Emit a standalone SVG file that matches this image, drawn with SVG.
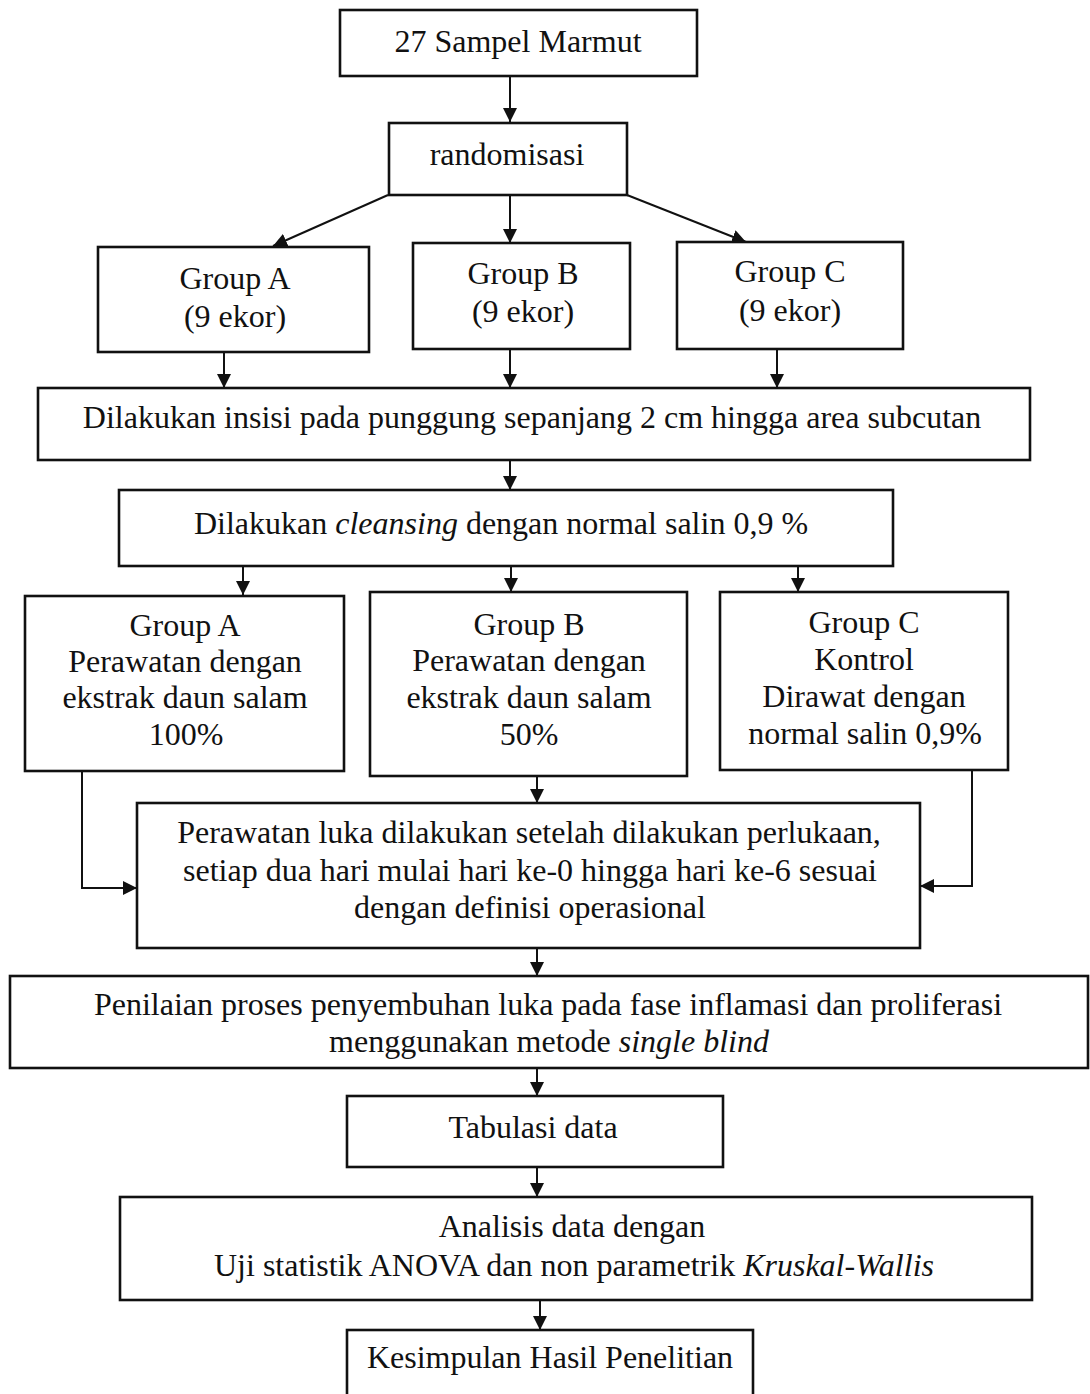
<svg xmlns="http://www.w3.org/2000/svg" width="1090" height="1394" viewBox="0 0 1090 1394">
<style>
.box{fill:#fff;stroke:#111;stroke-width:2.6}
.t{font-family:"Liberation Serif","Times New Roman",serif;font-size:32px;fill:#111;text-anchor:middle}
.c{fill:none;stroke:#111;stroke-width:2}
</style>
<defs>
<marker id="ah" viewBox="0 0 14 14" refX="14" refY="7" markerWidth="14" markerHeight="14" markerUnits="userSpaceOnUse" orient="auto">
<path d="M0,0 L14,7 L0,14 Z" fill="#111"/>
</marker>
</defs>
<rect width="1090" height="1394" fill="#fff"/>
<g id="connectors">
<line class="c" x1="510" y1="76" x2="510" y2="122" marker-end="url(#ah)"/>
<line class="c" x1="388" y1="195" x2="273" y2="246" marker-end="url(#ah)"/>
<line class="c" x1="510" y1="195" x2="510" y2="243" marker-end="url(#ah)"/>
<line class="c" x1="627" y1="195" x2="746" y2="242" marker-end="url(#ah)"/>
<line class="c" x1="224" y1="352" x2="224" y2="388" marker-end="url(#ah)"/>
<line class="c" x1="510" y1="349" x2="510" y2="388" marker-end="url(#ah)"/>
<line class="c" x1="777" y1="349" x2="777" y2="388" marker-end="url(#ah)"/>
<line class="c" x1="510" y1="460" x2="510" y2="490" marker-end="url(#ah)"/>
<line class="c" x1="243" y1="566" x2="243" y2="595" marker-end="url(#ah)"/>
<line class="c" x1="511" y1="566" x2="511" y2="592" marker-end="url(#ah)"/>
<line class="c" x1="798" y1="566" x2="798" y2="592" marker-end="url(#ah)"/>
<line class="c" x1="537" y1="776" x2="537" y2="803" marker-end="url(#ah)"/>
<polyline class="c" points="82,771 82,888 137,888" marker-end="url(#ah)"/>
<polyline class="c" points="972,770 972,886 920,886" marker-end="url(#ah)"/>
<line class="c" x1="537" y1="948" x2="537" y2="976" marker-end="url(#ah)"/>
<line class="c" x1="537" y1="1068" x2="537" y2="1096" marker-end="url(#ah)"/>
<line class="c" x1="537" y1="1167" x2="537" y2="1197" marker-end="url(#ah)"/>
<line class="c" x1="540" y1="1300" x2="540" y2="1330" marker-end="url(#ah)"/>
</g>
<g id="n1"><rect class="box" x="340" y="10" width="357" height="66"/><text class="t" x="518" y="52">27 Sampel Marmut</text></g>
<g id="n2"><rect class="box" x="389" y="123" width="238" height="72"/><text class="t" x="507" y="165">randomisasi</text></g>
<g id="n3"><rect class="box" x="98" y="247" width="271" height="105"/><text class="t" x="235" y="289">Group A</text><text class="t" x="235" y="327">(9 ekor)</text></g>
<g id="n4"><rect class="box" x="413" y="243" width="217" height="106"/><text class="t" x="523" y="284">Group B</text><text class="t" x="523" y="322">(9 ekor)</text></g>
<g id="n5"><rect class="box" x="677" y="242" width="226" height="107"/><text class="t" x="790" y="282">Group C</text><text class="t" x="790" y="321">(9 ekor)</text></g>
<g id="n6"><rect class="box" x="38" y="388" width="992" height="72"/><text class="t" x="532" y="428">Dilakukan insisi pada punggung sepanjang 2 cm hingga area subcutan</text></g>
<g id="n7"><rect class="box" x="119" y="490" width="774" height="76"/><text class="t" x="501" y="534">Dilakukan <tspan font-style="italic">cleansing</tspan> dengan normal salin 0,9 %</text></g>
<g id="n8"><rect class="box" x="25" y="596" width="319" height="175"/><text class="t" x="185" y="636">Group A</text><text class="t" x="185" y="672">Perawatan dengan</text><text class="t" x="185" y="708">ekstrak daun salam</text><text class="t" x="186" y="745">100%</text></g>
<g id="n9"><rect class="box" x="370" y="592" width="317" height="184"/><text class="t" x="529" y="635">Group B</text><text class="t" x="529" y="671">Perawatan dengan</text><text class="t" x="529" y="708">ekstrak daun salam</text><text class="t" x="529" y="745">50%</text></g>
<g id="n10"><rect class="box" x="720" y="592" width="288" height="178"/><text class="t" x="864" y="633">Group C</text><text class="t" x="864" y="670">Kontrol</text><text class="t" x="864" y="707">Dirawat dengan</text><text class="t" x="865" y="744">normal salin 0,9%</text></g>
<g id="n11"><rect class="box" x="137" y="803" width="783" height="145"/><text class="t" x="529" y="843">Perawatan luka dilakukan setelah dilakukan perlukaan,</text><text class="t" x="530" y="881">setiap dua hari mulai hari ke-0 hingga hari ke-6 sesuai</text><text class="t" x="530" y="918">dengan definisi operasional</text></g>
<g id="n12"><rect class="box" x="10" y="976" width="1078" height="92"/><text class="t" x="548" y="1015">Penilaian proses penyembuhan luka pada fase inflamasi dan proliferasi</text><text class="t" x="549" y="1052">menggunakan metode <tspan font-style="italic">single blind</tspan></text></g>
<g id="n13"><rect class="box" x="347" y="1096" width="376" height="71"/><text class="t" x="533" y="1138">Tabulasi data</text></g>
<g id="n14"><rect class="box" x="120" y="1197" width="912" height="103"/><text class="t" x="572" y="1237">Analisis data dengan</text><text class="t" x="574" y="1276">Uji statistik ANOVA dan non parametrik <tspan font-style="italic">Kruskal-Wallis</tspan></text></g>
<g id="n15"><rect class="box" x="347" y="1330" width="406" height="80"/><text class="t" x="550" y="1368">Kesimpulan Hasil Penelitian</text></g>
</svg>
